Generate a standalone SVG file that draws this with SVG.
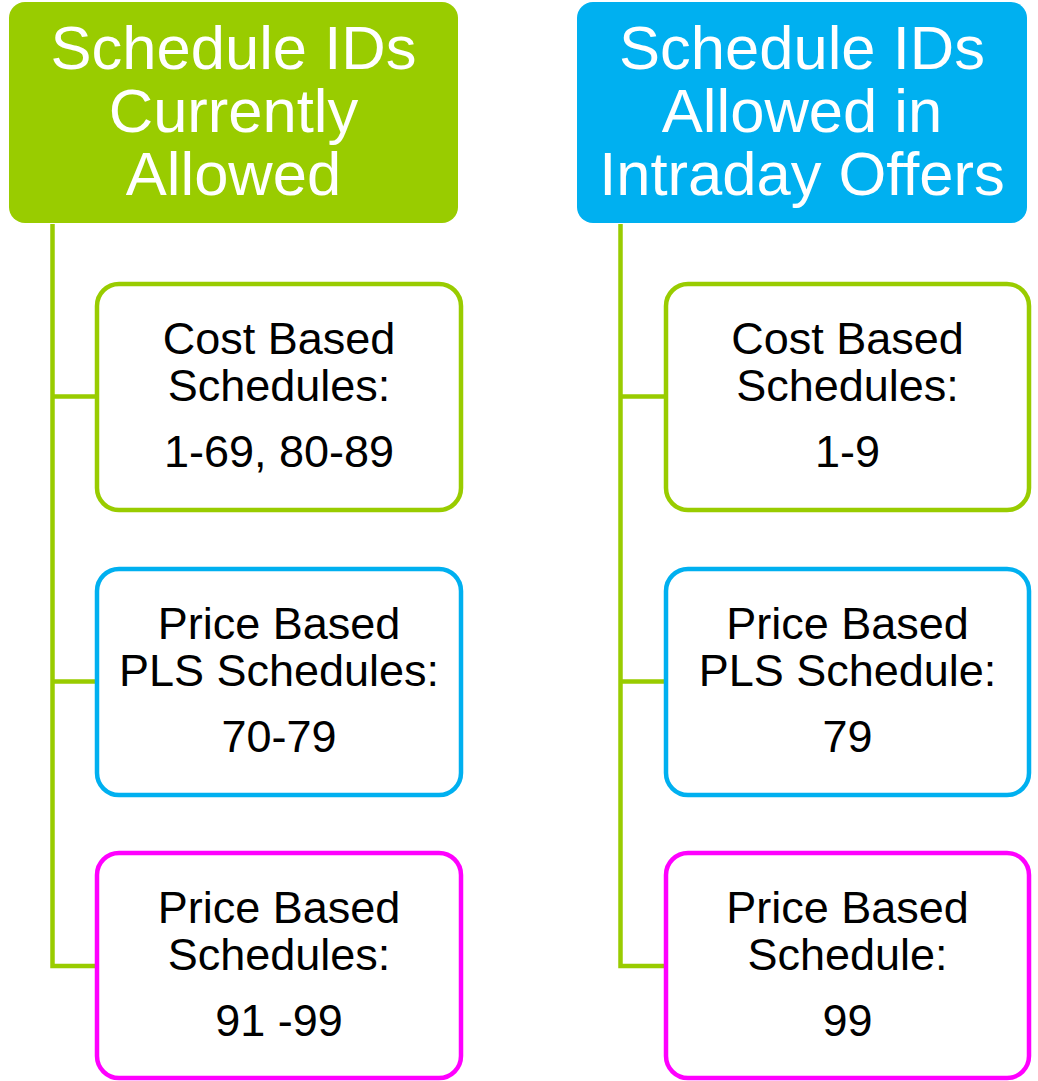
<svg xmlns="http://www.w3.org/2000/svg" width="1038" height="1081" viewBox="0 0 1038 1081">
<style>
.hdr{font-family:"Liberation Sans",Arial,sans-serif;font-size:61.5px;fill:#FFFFFF;text-anchor:middle}
.txt{font-family:"Liberation Sans",Arial,sans-serif;font-size:45px;fill:#000000;text-anchor:middle}
.box{fill:#FFFFFF;stroke-width:4.5}
.conn{fill:none;stroke:#99CC00;stroke-width:4.5}
</style>
<rect width="1038" height="1081" fill="#FFFFFF"/>
<g id="connectors">
<path class="conn" d="M52.5,224 V966 H96 M52.5,396.5 H96 M52.5,681.5 H96"/>
<path class="conn" d="M620.5,224 V966 H665 M620.5,396.5 H665 M620.5,681.5 H665"/>
</g>
<g id="header-left">
<rect x="9" y="2" width="449" height="221" rx="16" fill="#99CC00"/>
<text class="hdr" x="233.5" y="69">Schedule IDs</text>
<text class="hdr" x="233.5" y="132">Currently</text>
<text class="hdr" x="233.5" y="195">Allowed</text>
</g>
<g id="header-right">
<rect x="577" y="2" width="450" height="221" rx="16" fill="#00B0F0"/>
<text class="hdr" x="802" y="69">Schedule IDs</text>
<text class="hdr" x="802" y="132">Allowed in</text>
<text class="hdr" x="802" y="195">Intraday Offers</text>
</g>
<g id="left-cost">
<rect class="box" x="97" y="284" width="364" height="226" rx="22" stroke="#99CC00"/>
<text class="txt" x="279" y="354">Cost Based</text>
<text class="txt" x="279" y="401">Schedules:</text>
<text class="txt" x="279" y="467">1-69, 80-89</text>
</g>
<g id="left-pls">
<rect class="box" x="97" y="569" width="364" height="226" rx="22" stroke="#00B0F0"/>
<text class="txt" x="279" y="639">Price Based</text>
<text class="txt" x="279" y="686">PLS Schedules:</text>
<text class="txt" x="279" y="752">70-79</text>
</g>
<g id="left-price">
<rect class="box" x="97" y="853" width="364" height="225" rx="22" stroke="#FF00FF"/>
<text class="txt" x="279" y="923">Price Based</text>
<text class="txt" x="279" y="970">Schedules:</text>
<text class="txt" x="279" y="1036">91 -99</text>
</g>
<g id="right-cost">
<rect class="box" x="666" y="284" width="363" height="226" rx="22" stroke="#99CC00"/>
<text class="txt" x="847.5" y="354">Cost Based</text>
<text class="txt" x="847.5" y="401">Schedules:</text>
<text class="txt" x="847.5" y="467">1-9</text>
</g>
<g id="right-pls">
<rect class="box" x="666" y="569" width="363" height="226" rx="22" stroke="#00B0F0"/>
<text class="txt" x="847.5" y="639">Price Based</text>
<text class="txt" x="847.5" y="686">PLS Schedule:</text>
<text class="txt" x="847.5" y="752">79</text>
</g>
<g id="right-price">
<rect class="box" x="666" y="853" width="363" height="225" rx="22" stroke="#FF00FF"/>
<text class="txt" x="847.5" y="923">Price Based</text>
<text class="txt" x="847.5" y="970">Schedule:</text>
<text class="txt" x="847.5" y="1036">99</text>
</g>
</svg>
